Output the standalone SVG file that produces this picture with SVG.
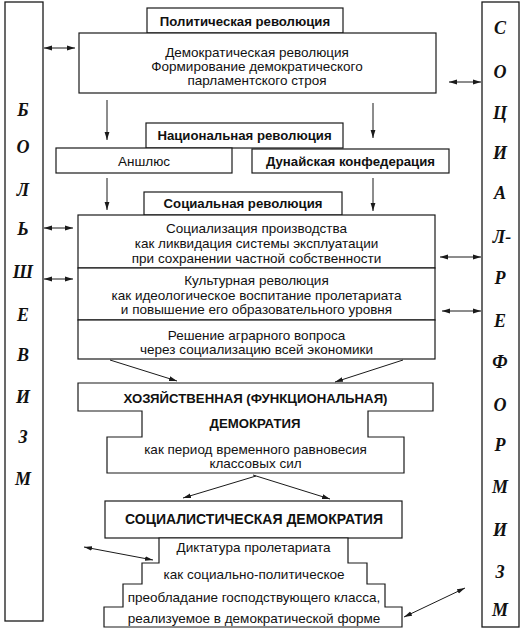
<svg xmlns="http://www.w3.org/2000/svg" width="521" height="630" viewBox="0 0 521 630">
<defs>
<marker id="ah" viewBox="0 0 8 6" refX="8" refY="3" markerWidth="8" markerHeight="6" markerUnits="userSpaceOnUse" orient="auto-start-reverse">
<path d="M0,0.6 L8,3 L0,5.4 Z" fill="#1a1a1a"/>
</marker>
</defs>
<style>
.b{fill:#fff;stroke:#1a1a1a;stroke-width:1.2}
.bar{fill:#fff;stroke:#1a1a1a;stroke-width:1.3}
.t{font-family:"Liberation Sans",Arial,sans-serif;font-size:13.5px;fill:#111;text-anchor:middle}
.tb{font-family:"Liberation Sans",Arial,sans-serif;font-size:13.2px;font-weight:bold;fill:#111;text-anchor:middle}
.L{font-family:"Liberation Serif","Times New Roman",serif;font-size:18px;font-weight:bold;font-style:italic;fill:#111;text-anchor:middle}
.c{stroke:#1a1a1a;stroke-width:1;fill:none;marker-end:url(#ah)}
.d{stroke:#1a1a1a;stroke-width:1;fill:none;marker-end:url(#ah);marker-start:url(#ah)}
</style>
<rect width="521" height="630" fill="#fff"/>

<g id="bolshevism">
<rect class="bar" x="5" y="2" width="38" height="619"/>
<text class="L" x="23" y="116">Б</text>
<text class="L" x="23" y="153">О</text>
<text class="L" x="23" y="196">Л</text>
<text class="L" x="23" y="235">Ь</text>
<text class="L" x="23" y="278">Ш</text>
<text class="L" x="23" y="321">Е</text>
<text class="L" x="23" y="361">В</text>
<text class="L" x="23" y="403">И</text>
<text class="L" x="23" y="443">З</text>
<text class="L" x="23" y="485">М</text>
</g>

<g id="socialreformism">
<rect class="bar" x="482" y="2" width="37" height="625"/>
<text class="L" x="500" y="34">С</text>
<text class="L" x="500" y="78">О</text>
<text class="L" x="500" y="119">Ц</text>
<text class="L" x="500" y="159">И</text>
<text class="L" x="500" y="199">А</text>
<text class="L" x="502" y="243">Л-</text>
<text class="L" x="500" y="284">Р</text>
<text class="L" x="500" y="327">Е</text>
<text class="L" x="500" y="368">Ф</text>
<text class="L" x="500" y="411">О</text>
<text class="L" x="500" y="451">Р</text>
<text class="L" x="500" y="493">М</text>
<text class="L" x="500" y="536">И</text>
<text class="L" x="500" y="578">З</text>
<text class="L" x="500" y="616">М</text>
</g>

<g id="political">
<rect class="b" x="147" y="8" width="196" height="25"/>
<text class="tb" x="245" y="25.5">Политическая революция</text>
</g>

<g id="democratic">
<rect class="b" x="79" y="33" width="357" height="60"/>
<text class="t" x="257" y="56.5">Демократическая революция</text>
<text class="t" x="257" y="70.5">Формирование демократического</text>
<text class="t" x="257" y="85">парламентского строя</text>
</g>

<g id="national">
<rect class="b" x="146" y="123" width="197" height="25"/>
<text class="tb" x="244.5" y="139.5">Национальная революция</text>
</g>

<g id="anschluss">
<rect class="b" x="56" y="148" width="176" height="25"/>
<text class="t" x="144" y="165.5">Аншлюс</text>
</g>

<g id="danube">
<rect class="b" x="252" y="149" width="197" height="24"/>
<text class="tb" x="350.5" y="166">Дунайская конфедерация</text>
</g>

<g id="social">
<rect class="b" x="144" y="192" width="198" height="23"/>
<text class="tb" x="243" y="208">Социальная революция</text>
</g>

<g id="socialization">
<rect class="b" x="78" y="215" width="357" height="53"/>
<text class="t" x="256.5" y="233">Социализация производства</text>
<text class="t" x="256.5" y="248">как ликвидация системы эксплуатации</text>
<text class="t" x="256.5" y="262.5">при сохранении частной собственности</text>
</g>

<g id="cultural">
<rect class="b" x="78" y="268" width="357" height="52"/>
<text class="t" x="256.5" y="285">Культурная революция</text>
<text class="t" x="256.5" y="300">как идеологическое воспитание пролетариата</text>
<text class="t" x="256.5" y="314">и повышение его образовательного уровня</text>
</g>

<g id="agrarian">
<rect class="b" x="78" y="320" width="357" height="39"/>
<text class="t" x="256.5" y="340">Решение аграрного вопроса</text>
<text class="t" x="256.5" y="353.5">через социализацию всей экономики</text>
</g>

<g id="economic">
<path class="b" d="M78,383 H433 V411 H368 V437 H404 V473 H107 V437 H142 V411 H78 Z"/>
<text class="tb" x="255.5" y="403">ХОЗЯЙСТВЕННАЯ (ФУНКЦИОНАЛЬНАЯ)</text>
<text class="tb" x="255" y="428">ДЕМОКРАТИЯ</text>
<text class="t" x="255.5" y="454">как период временного равновесия</text>
<text class="t" x="255.5" y="468">классовых сил</text>
</g>

<g id="socialist">
<rect class="b" x="105" y="501" width="297" height="37"/>
<text class="tb" x="254" y="524" style="font-size:14px">СОЦИАЛИСТИЧЕСКАЯ ДЕМОКРАТИЯ</text>
</g>

<g id="dictatorship">
<path class="b" d="M159,538 H348 V563 H367 V584 H385 V607 H402 V627 H104 V607 H123 V584 H142 V563 H159 Z"/>
<text class="t" x="253.5" y="552">Диктатура пролетариата</text>
<text class="t" x="254" y="578.5">как социально-политическое</text>
<text class="t" x="254" y="601.5">преобладание господствующего класса,</text>
<text class="t" x="254" y="623">реализуемое в демократической форме</text>
</g>

<g id="connectors">
<line class="d" x1="44" y1="48" x2="75" y2="48"/>
<line class="d" x1="449" y1="82" x2="481" y2="82"/>
<line class="c" x1="107" y1="100" x2="107" y2="140"/>
<line class="c" x1="373" y1="103" x2="373" y2="138"/>
<line class="c" x1="107" y1="178" x2="107" y2="210"/>
<line class="c" x1="373" y1="178" x2="373" y2="211"/>
<line class="d" x1="44" y1="228" x2="73" y2="228"/>
<line class="d" x1="44" y1="279" x2="73" y2="279"/>
<line class="d" x1="440" y1="257" x2="481" y2="257"/>
<line class="d" x1="442" y1="311" x2="481" y2="311"/>
<line class="c" x1="110" y1="360" x2="177" y2="381"/>
<line class="c" x1="403" y1="360" x2="335" y2="382"/>
<line class="c" x1="256" y1="476" x2="183" y2="498"/>
<line class="c" x1="253" y1="475" x2="330" y2="499"/>
<line class="d" x1="84" y1="547" x2="153" y2="560"/>
<line class="d" x1="404" y1="617" x2="465" y2="588"/>
</g>
</svg>
